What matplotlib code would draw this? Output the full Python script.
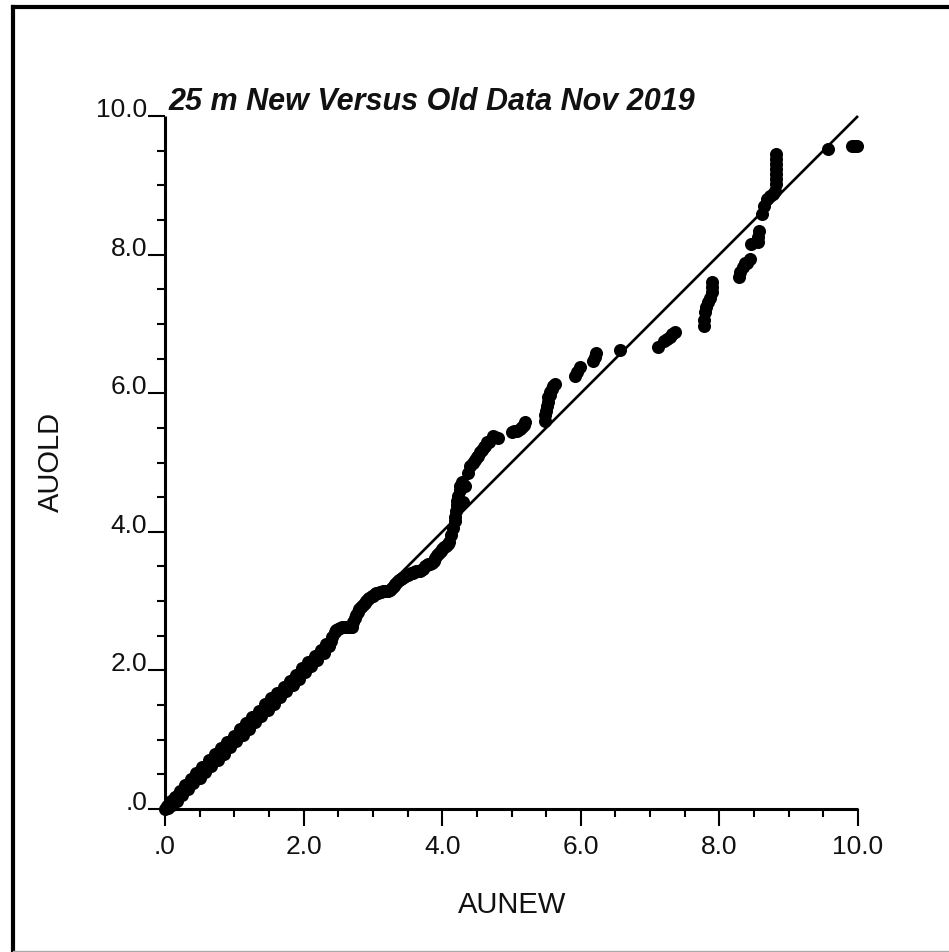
import matplotlib
matplotlib.use("Agg")
import matplotlib.pyplot as plt
from matplotlib.lines import Line2D
from matplotlib.ticker import FixedLocator, MultipleLocator

# Quantile pairs: new assay (x) against old assay (y), 25 m composites
aunew = [
    0.00, 0.03, 0.05, 0.08, 0.10, 0.14, 0.17, 0.21, 0.25, 0.29,
    0.33, 0.37, 0.41, 0.45, 0.50, 0.54, 0.58, 0.63, 0.67, 0.72,
    0.76, 0.81, 0.85, 0.90, 0.94, 0.99, 1.03, 1.08, 1.12, 1.17,
    1.21, 1.26, 1.30, 1.35, 1.39, 1.44, 1.48, 1.53, 1.57, 1.62,
    1.66, 1.71, 1.75, 1.80, 1.84, 1.89, 1.93, 1.98, 2.02, 2.07,
    2.11, 2.16, 2.20, 2.25, 2.29, 2.33, 2.37, 2.41, 2.45, 2.47,
    2.50, 2.52, 2.55, 2.58, 2.60, 2.62, 2.65, 2.68, 2.70, 2.72,
    2.74, 2.76, 2.78, 2.80, 2.83, 2.85, 2.88, 2.90, 2.93, 2.95,
    2.98, 3.00, 3.03, 3.05, 3.08, 3.10, 3.12, 3.15, 3.18, 3.20,
    3.22, 3.25, 3.28, 3.30, 3.32, 3.35, 3.38, 3.40, 3.42, 3.45,
    3.48, 3.50, 3.52, 3.55, 3.58, 3.60, 3.62, 3.65, 3.68, 3.70,
    3.72, 3.75, 3.78, 3.80, 3.82, 3.85, 3.88, 3.90, 3.92, 3.95,
    3.98, 4.00, 4.02, 4.05, 4.08, 4.10, 4.12, 4.15, 4.18, 4.19,
    4.20, 4.21, 4.22, 4.23, 4.25, 4.26, 4.28, 4.30, 4.33, 4.37,
    4.40, 4.44, 4.47, 4.50, 4.52, 4.55, 4.58, 4.60, 4.62, 4.65,
    4.68, 4.73, 4.76, 4.80, 5.00, 5.04, 5.08, 5.12, 5.15, 5.18,
    5.20, 5.48, 5.49, 5.50, 5.51, 5.52, 5.53, 5.55, 5.56, 5.58,
    5.60, 5.63, 5.92, 5.95, 5.99, 6.18, 6.20, 6.22, 6.56, 7.12,
    7.20, 7.24, 7.28, 7.32, 7.36, 7.78, 7.78, 7.79, 7.80, 7.84,
    7.86, 7.89, 7.89, 7.90, 8.28, 8.30, 8.34, 8.37, 8.40, 8.44,
    8.46, 8.56, 8.56, 8.57, 8.61, 8.64, 8.69, 8.73, 8.77, 8.80,
    8.82, 8.82, 8.82, 8.82, 8.82, 8.82, 8.82, 9.57, 9.91, 9.95,
    9.99,
    0.06, 0.12, 0.19, 0.27, 0.35, 0.43, 0.52, 0.60, 0.69, 0.78,
    0.87, 0.96, 1.05, 1.14, 1.23, 1.32, 1.41, 1.50, 1.59, 1.68,
    1.77, 1.86, 1.95, 2.04, 2.13, 2.22, 2.31, 2.39,
]
auold = [
    0.00, 0.05, 0.02, 0.12, 0.06, 0.18, 0.12, 0.26, 0.20, 0.35,
    0.29, 0.44, 0.37, 0.52, 0.45, 0.61, 0.54, 0.70, 0.62, 0.79,
    0.71, 0.88, 0.80, 0.97, 0.89, 1.06, 0.98, 1.15, 1.07, 1.24,
    1.16, 1.33, 1.25, 1.42, 1.34, 1.51, 1.43, 1.60, 1.52, 1.68,
    1.61, 1.76, 1.70, 1.85, 1.79, 1.94, 1.88, 2.03, 1.97, 2.12,
    2.06, 2.21, 2.15, 2.30, 2.25, 2.38, 2.35, 2.48, 2.55, 2.58,
    2.60, 2.61, 2.62, 2.62, 2.62, 2.62, 2.62, 2.63, 2.63, 2.70,
    2.75, 2.80, 2.84, 2.88, 2.92, 2.95, 2.97, 3.00, 3.03, 3.05,
    3.07, 3.08, 3.10, 3.12, 3.12, 3.13, 3.13, 3.14, 3.15, 3.15,
    3.15, 3.16, 3.19, 3.22, 3.25, 3.28, 3.30, 3.32, 3.33, 3.35,
    3.37, 3.38, 3.39, 3.40, 3.41, 3.42, 3.43, 3.44, 3.44, 3.45,
    3.47, 3.50, 3.52, 3.53, 3.54, 3.55, 3.58, 3.62, 3.66, 3.70,
    3.72, 3.75, 3.78, 3.80, 3.82, 3.85, 3.95, 4.05, 4.15, 4.22,
    4.30, 4.38, 4.45, 4.52, 4.60, 4.66, 4.72, 4.43, 4.66, 4.85,
    4.95, 5.00, 5.04, 5.08, 5.10, 5.15, 5.18, 5.22, 5.24, 5.30,
    5.30, 5.38, 5.37, 5.36, 5.44, 5.45, 5.46, 5.48, 5.51, 5.54,
    5.58, 5.60, 5.68, 5.75, 5.82, 5.88, 5.95, 5.98, 6.02, 6.06,
    6.10, 6.13, 6.25, 6.30, 6.38, 6.46, 6.52, 6.58, 6.63, 6.67,
    6.75, 6.78, 6.81, 6.85, 6.88, 6.97, 7.05, 7.17, 7.24, 7.32,
    7.38, 7.46, 7.53, 7.60, 7.68, 7.75, 7.82, 7.88, 7.88, 7.94,
    8.15, 8.18, 8.26, 8.34, 8.59, 8.70, 8.80, 8.84, 8.87, 8.92,
    9.02, 9.09, 9.16, 9.24, 9.31, 9.38, 9.45, 9.52, 9.57, 9.57,
    9.57,
    0.07, 0.13, 0.20, 0.28, 0.36, 0.45, 0.53, 0.62, 0.71, 0.80,
    0.89, 0.98, 1.07, 1.16, 1.25, 1.34, 1.43, 1.52, 1.61, 1.69,
    1.78, 1.87, 1.96, 2.05, 2.14, 2.23, 2.32, 2.43,
]
pairs = sorted(zip(aunew, auold))
aunew = [p[0] for p in pairs]
auold = [p[1] for p in pairs]

major_ticks = [0.0, 2.0, 4.0, 6.0, 8.0, 10.0]
tick_labels = [".0", "2.0", "4.0", "6.0", "8.0", "10.0"]
ref_line = [0.0, 10.0]

FONT = "Liberation Sans"
plt.rcParams["font.family"] = [FONT, "DejaVu Sans"]

W, H = 949, 953
fig = plt.figure(figsize=(W / 100, H / 100), dpi=100)
ax = fig.add_axes([165 / W, 1 - 810 / H, 693 / W, 693 / H])

# 1:1 reference line
ax.plot(ref_line, ref_line, color="black", lw=1.9, solid_capstyle="butt",
        clip_on=False, zorder=2)
# quantile points
ax.plot(aunew, auold, "o", color="black", ms=9.4, mew=0, clip_on=False,
        zorder=3)

ax.set_xlim(0, 10)
ax.set_ylim(0, 10)
for side in ("top", "right"):
    ax.spines[side].set_visible(False)
for side in ("left", "bottom"):
    ax.spines[side].set_linewidth(2.2)
    ax.spines[side].set_capstyle("butt")

ax.xaxis.set_major_locator(FixedLocator(major_ticks))
ax.yaxis.set_major_locator(FixedLocator(major_ticks))
ax.xaxis.set_minor_locator(MultipleLocator(0.5))
ax.yaxis.set_minor_locator(MultipleLocator(0.5))
ax.set_xticklabels(tick_labels)
ax.set_yticklabels(tick_labels)

ax.tick_params(axis="both", which="major", direction="out", length=12.2,
               width=1.5, color="black", labelsize=19, labelcolor="#111111")
ax.tick_params(axis="both", which="minor", direction="out", length=5.8,
               width=1.5, color="black")
ax.tick_params(axis="x", which="major", pad=6)
ax.tick_params(axis="y", which="major", pad=0.5)
for lab in ax.get_yticklabels():
    lab.set_verticalalignment("baseline")

fig.text(168 / W, 1 - 110 / H, "25 m New Versus Old Data Nov 2019",
         fontsize=22, fontweight="bold", fontstyle="italic",
         ha="left", va="baseline", color="#111111")
fig.text(512 / W, 1 - 905 / H, "AUNEW", fontsize=21, ha="center",
         va="center", color="#111111")
fig.text(51 / W, 1 - 462 / H, "AUOLD", fontsize=21, ha="center",
         va="center", rotation=90, color="#111111")

# outer frame
fx0, fy0 = 12.5 / W, 1 - 7.5 / H
fig.add_artist(Line2D([fx0, fx0], [0, fy0], transform=fig.transFigure,
                      color="black", lw=3))
fig.add_artist(Line2D([fx0, 1], [fy0, fy0], transform=fig.transFigure,
                      color="black", lw=3))
fig.add_artist(Line2D([fx0, 1], [1.5 / H, 1.5 / H], transform=fig.transFigure,
                      color="#aaaaaa", lw=1))

fig.savefig("out.png", dpi=100)
